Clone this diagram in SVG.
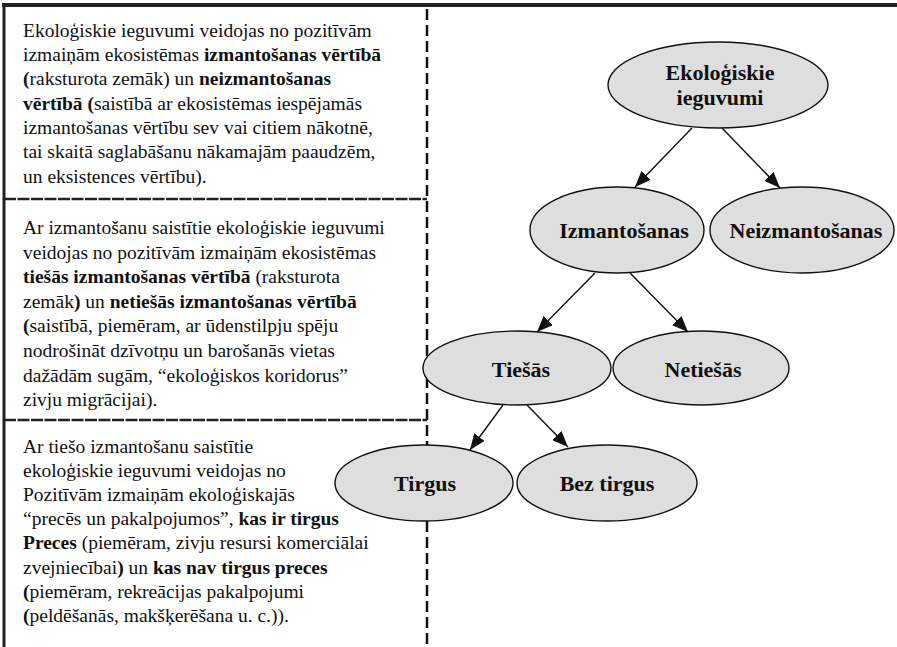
<svg xmlns="http://www.w3.org/2000/svg" width="897" height="647" viewBox="0 0 897 647">
<defs>
<style>
text{font-family:'Liberation Serif','Times New Roman','DejaVu Serif',serif}
.t{font-size:19.5px;fill:#111}
.b{font-weight:bold}
.n{font-size:22px;font-weight:bold;fill:#111;text-anchor:middle}
.e{fill:#dedede;stroke:#111;stroke-width:1.4}
.c{stroke:#111;stroke-width:1.4;fill:none;marker-end:url(#ah)}
</style>
<marker id="ah" markerUnits="userSpaceOnUse" markerWidth="17" markerHeight="13" refX="16" refY="6.5" orient="auto">
<path d="M0,0 L16,6.5 L0,13 z" fill="#111"/>
</marker>
</defs>
<rect width="897" height="647" fill="#fff"/>
<g id="frame">
<line x1="2" y1="5" x2="897" y2="5" stroke="#222" stroke-width="4"/>
<line x1="4" y1="4" x2="4" y2="647" stroke="#222" stroke-width="3"/>
<line x1="4" y1="199" x2="427" y2="199" stroke="#222" stroke-width="2.5" stroke-dasharray="12 1.5"/>
<line x1="4" y1="420" x2="427" y2="420" stroke="#222" stroke-width="2.5" stroke-dasharray="12 1.5"/>
<line x1="427" y1="9" x2="427" y2="647" stroke="#111" stroke-width="2.5" stroke-dasharray="11 5"/>
</g>
<g id="box1" font-family="Liberation Serif, serif">
<text class="t" x="23" y="37">Ekoloģiskie ieguvumi veidojas no pozitīvām</text>
<text class="t" x="23" y="61">izmaiņām ekosistēmas <tspan class="b">izmantošanas vērtībā</tspan></text>
<text class="t" x="23" y="85"><tspan class="b">(</tspan>raksturota zemāk) un <tspan class="b">neizmantošanas</tspan></text>
<text class="t" x="23" y="110"><tspan class="b">vērtībā (</tspan>saistībā ar ekosistēmas iespējamās</text>
<text class="t" x="23" y="134">izmantošanas vērtību sev vai citiem nākotnē,</text>
<text class="t" x="23" y="158">tai skaitā saglabāšanu nākamajām paaudzēm,</text>
<text class="t" x="23" y="183">un eksistences vērtību).</text>
</g>
<g id="box2">
<text class="t" x="23" y="234">Ar izmantošanu saistītie ekoloģiskie ieguvumi</text>
<text class="t" x="23" y="258.6">veidojas no pozitīvām izmaiņām ekosistēmas</text>
<text class="t" x="23" y="283.2"><tspan class="b">tiešās izmantošanas vērtībā</tspan> (raksturota</text>
<text class="t" x="23" y="307.8">zemāk<tspan class="b">)</tspan> un <tspan class="b">netiešās izmantošanas vērtībā</tspan></text>
<text class="t" x="23" y="332.4"><tspan class="b">(</tspan>saistībā, piemēram, ar ūdenstilpju spēju</text>
<text class="t" x="23" y="357">nodrošināt dzīvotņu un barošanās vietas</text>
<text class="t" x="23" y="381.6">dažādām sugām, “ekoloģiskos koridorus”</text>
<text class="t" x="23" y="406.2">zivju migrācijai).</text>
</g>
<g id="box3">
<text class="t" x="23" y="453">Ar tiešo izmantošanu saistītie</text>
<text class="t" x="23" y="477.1">ekoloģiskie ieguvumi veidojas no</text>
<text class="t" x="23" y="501.2">Pozitīvām izmaiņām ekoloģiskajās</text>
<text class="t" x="23" y="525.3">“precēs un pakalpojumos”, <tspan class="b">kas ir tirgus</tspan></text>
<text class="t" x="23" y="549.4"><tspan class="b">Preces</tspan> (piemēram, zivju resursi komerciālai</text>
<text class="t" x="23" y="573.5">zvejniecībai<tspan class="b">)</tspan> un <tspan class="b">kas nav tirgus preces</tspan></text>
<text class="t" x="23" y="597.6"><tspan class="b">(</tspan>piemēram, rekreācijas pakalpojumi</text>
<text class="t" x="23" y="621.7"><tspan class="b">(</tspan>peldēšanās, makšķerēšana u. c.)).</text>
</g>
<g id="connectors">
<line class="c" x1="692" y1="128" x2="635" y2="187"/>
<line class="c" x1="722" y1="128" x2="780" y2="188"/>
<line class="c" x1="595" y1="273" x2="537" y2="332"/>
<line class="c" x1="630" y1="273" x2="688" y2="332"/>
<line class="c" x1="503" y1="405" x2="470" y2="450"/>
<line class="c" x1="527" y1="405" x2="568" y2="447"/>
</g>
<g id="n-ekologiskie">
<ellipse class="e" cx="718" cy="85" rx="110" ry="43"/>
<text class="n" x="720" y="80">Ekoloģiskie</text>
<text class="n" x="720" y="105">ieguvumi</text>
</g>
<g id="n-izmantosanas">
<ellipse class="e" cx="617" cy="230" rx="87" ry="43"/>
<text class="n" x="624" y="238">Izmantošanas</text>
</g>
<g id="n-neizmantosanas">
<ellipse class="e" cx="802" cy="230" rx="92" ry="43"/>
<text class="n" x="806" y="238">Neizmantošanas</text>
</g>
<g id="n-tiesas">
<ellipse class="e" cx="517" cy="368" rx="94" ry="37"/>
<text class="n" x="521" y="377">Tiešās</text>
</g>
<g id="n-netiesas">
<ellipse class="e" cx="701" cy="368" rx="88" ry="37"/>
<text class="n" x="703" y="377">Netiešās</text>
</g>
<g id="n-tirgus">
<ellipse class="e" cx="424" cy="483" rx="89" ry="38"/>
<text class="n" x="425" y="491">Tirgus</text>
</g>
<g id="n-bez-tirgus">
<ellipse class="e" cx="607" cy="483" rx="90" ry="38"/>
<text class="n" x="607" y="491">Bez tirgus</text>
</g>
</svg>
